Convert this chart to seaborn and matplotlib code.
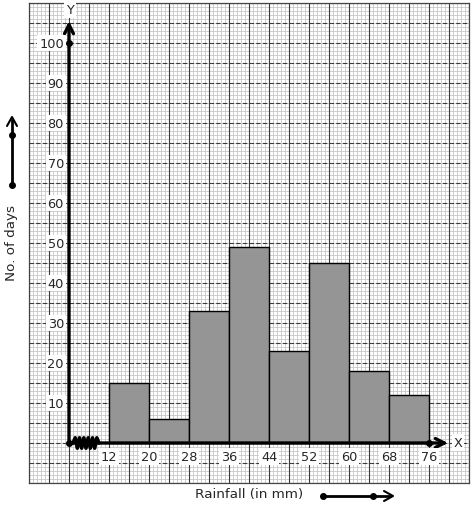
import numpy as np
import pandas as pd
import seaborn as sns
import matplotlib.pyplot as plt
from matplotlib.lines import Line2D

# ---- data ----
bin_edges = [12, 20, 28, 36, 44, 52, 60, 68, 76]
days = [15, 6, 33, 49, 23, 45, 18, 12]
y_ticks = [10, 20, 30, 40, 50, 60, 70, 80, 90, 100]
x_ticks = [12, 20, 28, 36, 44, 52, 60, 68, 76]
x_label = "Rainfall (in mm)"
y_label = "No. of days"

sns.set_style("white")
plt.rcParams['font.family'] = ['DejaVu Sans']

W, H = 474, 510
fig = plt.figure(figsize=(W / 100, H / 100), dpi=100)
ax = fig.add_axes([29 / W, 26 / H, 440 / W, 480 / H])

origin_x = 4  # axis origin (after kink)
ax.set_xlim(-4, 84)
ax.set_ylim(-10, 110)

# graph paper
minor_col = '#c4c4c4'
for xv in np.arange(-4, 84.01, 0.8):
    ax.axvline(xv, color=minor_col, lw=0.55, zorder=0)
for yv in np.arange(-10, 110.01, 1):
    ax.axhline(yv, color=minor_col, lw=0.55, zorder=0)
for xv in np.arange(-4, 84.01, 4):
    ax.axvline(xv, color='#3a3a3a', lw=0.8, zorder=0.5)
for yv in np.arange(-10, 110.01, 5):
    ax.axhline(yv, color='#3a3a3a', lw=0.8, ls=(0, (4, 2)), zorder=0.5)

# histogram
mids = [(bin_edges[i] + bin_edges[i + 1]) / 2 for i in range(len(days))]
df = pd.DataFrame({"mid": mids, "days": days})
sns.histplot(data=df, x="mid", weights="days", bins=bin_edges, ax=ax,
             color='#959595', alpha=1, edgecolor='black', linewidth=1.0, zorder=2)

ax.set_xticks([]); ax.set_yticks([])
ax.set_xlabel(''); ax.set_ylabel('')
for s in ax.spines.values():
    s.set_visible(True); s.set_color('#444444'); s.set_linewidth(0.9)

# axes with arrows
ax.annotate('', xy=(origin_x, 105.5), xytext=(origin_x, 0),
            arrowprops=dict(arrowstyle='->', lw=2.4, color='black',
                            mutation_scale=16, shrinkA=0, shrinkB=0), zorder=5)
ax.annotate('', xy=(79.8, 0), xytext=(origin_x, 0),
            arrowprops=dict(arrowstyle='->', lw=2.4, color='black',
                            mutation_scale=16, shrinkA=0, shrinkB=0), zorder=5)
ax.plot([origin_x, origin_x, 76], [0, 100, 0], 'o', color='black', ms=4, zorder=6)

# kink zigzag
zx = np.linspace(4.8, 10.0, 13)
zy = np.array([1.3 if i % 2 else -1.3 for i in range(13)])
zy[0] = 0; zy[-1] = 0
ax.plot(zx, zy, color='black', lw=2.6, zorder=6)

bb = dict(boxstyle='square,pad=0.15', fc='white', ec='none')
for yt in y_ticks:
    ax.text(3.0, yt, str(yt), ha='right', va='center', fontsize=9.3, bbox=bb, zorder=7)
for xt in x_ticks:
    ax.text(xt, -3.3, str(xt), ha='center', va='center', fontsize=9.3, bbox=bb, zorder=7)
ax.text(81.8, 0.2, 'X', ha='center', va='center', fontsize=9.3, bbox=bb, zorder=7)
ax.text(4.2, 108.4, 'Y', ha='center', va='center', fontsize=9.3, bbox=bb, zorder=7)

# outside labels and arrows
fig.text(249 / W, 1 - 495 / H, x_label, ha='center', va='center', fontsize=9.7)
fig.text(12 / W, 1 - 243 / H, y_label, ha='center', va='center', fontsize=9.7, rotation=90)

def fx(p): return p / W
def fy(p): return 1 - p / H

fig.add_artist(Line2D([fx(12), fx(12)], [fy(186), fy(121)], color='black', lw=2,
                      transform=fig.transFigure))
fig.add_artist(Line2D([fx(12), fx(12)], [fy(186), fy(136)], marker='o', ms=4, ls='none',
                      color='black', transform=fig.transFigure))
fig.add_artist(Line2D([fx(7), fx(12), fx(17)], [fy(127), fy(118), fy(127)], color='black',
                      lw=1.5, transform=fig.transFigure))

fig.add_artist(Line2D([fx(323), fx(390)], [fy(497), fy(497)], color='black', lw=2,
                      transform=fig.transFigure))
fig.add_artist(Line2D([fx(323), fx(373)], [fy(497), fy(497)], marker='o', ms=4, ls='none',
                      color='black', transform=fig.transFigure))
fig.add_artist(Line2D([fx(384), fx(393), fx(384)], [fy(492), fy(497), fy(502)], color='black',
                      lw=1.5, transform=fig.transFigure))

fig.savefig('out.png', dpi=100)
